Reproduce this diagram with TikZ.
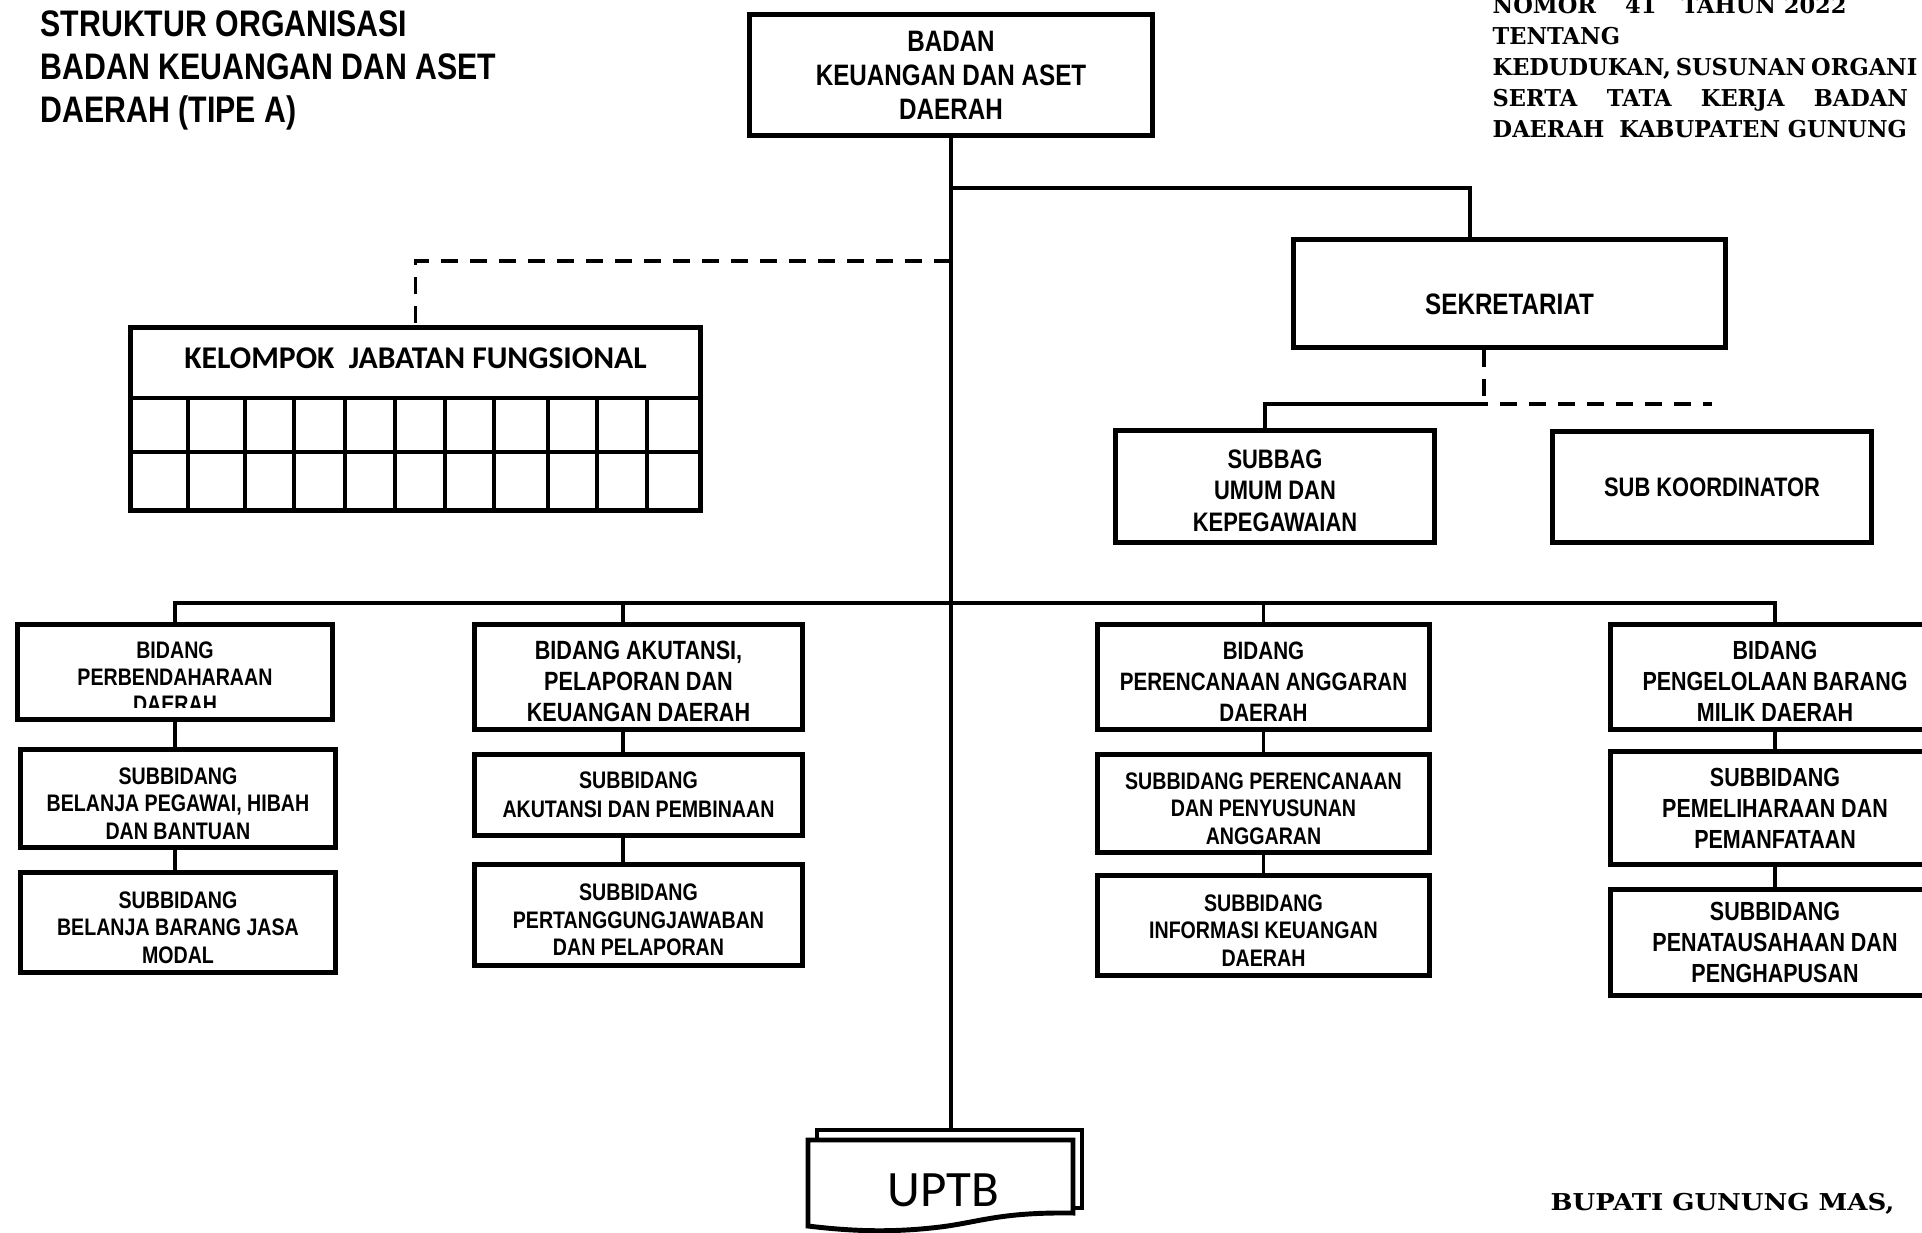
\documentclass[tikz,border=0pt]{standalone}
\usepackage{fontspec}
\newfontfamily\narrowsans[FakeStretch=0.82]{Liberation Sans}
\newfontfamily\calibfont{Carlito}
\newfontfamily\serifhead[FakeStretch=0.97]{DejaVu Serif}
\newfontfamily\serifwide[FakeStretch=1.12]{DejaVu Serif}
\newcommand{\bxfont}[2]{\narrowsans\bfseries\fontsize{#1}{#2}\selectfont}
\newcommand{\lift}{\rule{0pt}{7.6pt}}

\begin{document}
\begin{tikzpicture}[x=0.01cm, y=-0.01cm,
    unit/.style={draw, line width=1.4pt, align=center, inner sep=0pt, fill=white},
    conn/.style={line width=1pt},
    dashconn/.style={line width=1.1pt, dash pattern=on 0.17cm off 0.12cm},
    grid/.style={line width=1.4pt}]
  \useasboundingbox[fill=white] (0,0) rectangle (1922,1232);
  % headings
  \node[anchor=north west, inner sep=0pt, align=left, font=\bxfont{10.5}{12.2}] (title) at (40,10)
    {STRUKTUR ORGANISASI\\BADAN KEUANGAN DAN ASET\\DAERAH (TIPE A)};
  \node[anchor=north west, inner sep=0pt, align=left, font=\serifhead\bfseries\fontsize{6.6}{8.8}\selectfont] (perda) at (1492,-4)
    {NOMOR\hspace{0.29cm}41\hspace{0.25cm}TAHUN 2022\\TENTANG\\
     KEDUDUKAN,\hspace{0.05cm}SUSUNAN\hspace{0.05cm}ORGANI\\
     \makebox[4.15cm][s]{SERTA\hfill TATA\hfill KERJA\hfill BADAN}\\DAERAH\hspace{0.15cm}KABUPATEN GUNUNG};
  \node[anchor=base west, inner sep=0pt, font=\serifwide\bfseries\fontsize{6.6}{8}\selectfont] (bupati) at (1550,1210)
    {BUPATI GUNUNG MAS,};
  % top
  \node[unit, minimum width=4.03cm, minimum height=1.21cm, font=\bxfont{8.4}{9.7}] (badan) at (951,75)
    {BADAN\\KEUANGAN DAN ASET\\DAERAH};
  \node[unit, minimum width=4.31cm, minimum height=1.08cm, text height=0.41cm, text depth=0pt,
    font=\bxfont{8.4}{9.7}] (sekr) at (1509.5,293.5) {SEKRETARIAT};
  \node[unit, minimum width=3.19cm, minimum height=1.12cm, font=\bxfont{7.6}{9}] (subbag) at (1275,486.5)
    {\lift SUBBAG\\UMUM DAN\\KEPEGAWAIAN};
  \node[unit, minimum width=3.19cm, minimum height=1.11cm, font=\bxfont{7.6}{9}] (subkoor) at (1712,487)
    {SUB KOORDINATOR};
  % kelompok jabatan fungsional
  \node[unit, minimum width=5.70cm, minimum height=1.83cm] (kjf) at (415.5,419) {};
  \node[inner sep=0pt, font=\calibfont\bfseries\fontsize{9}{11}\selectfont] (kjfhead) at (kjf.north |- 0,358)
    {KELOMPOK\ \ JABATAN FUNGSIONAL};
  \draw[grid] (kjf.west |- 0,398) -- (kjf.east |- 0,398);
  \draw[grid] (kjf.west |- 0,452) -- (kjf.east |- 0,452);
  \foreach \x in {188,245,294,345,395,445,494,548,597,647}
    \draw[grid] (\x,398) -- (\x,0 |- kjf.south);
  % bidang
  \node[unit, minimum width=3.15cm, minimum height=0.95cm] (b1) at (175,672) {};
  \begin{scope}
    \clip (16,622) rectangle (335,707);
    \node[align=center, inner sep=0pt, font=\bxfont{6.8}{7.7}] (b1text) at (175,677)
      {BIDANG\\PERBENDAHARAAN\\DAERAH};
  \end{scope}
  \node[unit, minimum width=3.15cm, minimum height=0.98cm, font=\bxfont{6.8}{7.8}] (s1a) at (178,798.5)
    {\lift SUBBIDANG\\BELANJA PEGAWAI, HIBAH\\DAN BANTUAN};
  \node[unit, minimum width=3.15cm, minimum height=1.00cm, font=\bxfont{6.8}{7.8}] (s1b) at (178,922.5)
    {\lift SUBBIDANG\\BELANJA BARANG JASA\\MODAL};
  \node[unit, minimum width=3.28cm, minimum height=1.05cm, font=\bxfont{7.5}{8.8}] (b2) at (638.5,677)
    {\lift BIDANG AKUTANSI,\\PELAPORAN DAN\\KEUANGAN DAERAH};
  \node[unit, minimum width=3.28cm, minimum height=0.81cm, font=\bxfont{6.8}{8.2}] (s2a) at (638.5,795)
    {SUBBIDANG\\AKUTANSI DAN PEMBINAAN};
  \node[unit, minimum width=3.28cm, minimum height=1.01cm, font=\bxfont{6.8}{7.8}] (s2b) at (638.5,915)
    {\lift SUBBIDANG\\PERTANGGUNGJAWABAN\\DAN PELAPORAN};
  \node[unit, minimum width=3.32cm, minimum height=1.05cm, font=\bxfont{7.15}{8.8}] (b3) at (1263.5,677)
    {\lift BIDANG\\PERENCANAAN ANGGARAN\\DAERAH};
  \node[unit, minimum width=3.32cm, minimum height=0.98cm, font=\bxfont{6.8}{7.8}] (s3a) at (1263.5,803.5)
    {\lift SUBBIDANG PERENCANAAN\\DAN PENYUSUNAN\\ANGGARAN};
  \node[unit, minimum width=3.32cm, minimum height=1.00cm, font=\bxfont{6.8}{7.8}] (s3b) at (1263.5,925.5)
    {\lift SUBBIDANG\\INFORMASI KEUANGAN\\DAERAH};
  \node[unit, minimum width=3.29cm, minimum height=1.05cm, font=\bxfont{7.45}{8.8}] (b4) at (1775,677)
    {\lift BIDANG\\PENGELOLAAN BARANG\\MILIK DAERAH};
  \node[unit, minimum width=3.29cm, minimum height=1.13cm, font=\bxfont{7.45}{8.8}] (s4a) at (1775,808)
    {SUBBIDANG\\PEMELIHARAAN DAN\\PEMANFATAAN};
  \node[unit, minimum width=3.29cm, minimum height=1.06cm, font=\bxfont{7.45}{8.7}] (s4b) at (1775,942.5)
    {SUBBIDANG\\PENATAUSAHAAN DAN\\PENGHAPUSAN};
  % uptb
  \node[draw, line width=1.2pt, minimum width=2.65cm, minimum height=0.78cm, inner sep=0pt] (uptbback) at (949.5,1169) {};
  \draw[line width=1.4pt, fill=white] (808,1140) -- (1073,1140) -- (1073,1213)
    .. controls (1000,1212) and (980,1222) .. (940,1227)
    .. controls (890,1233) and (850,1231) .. (808,1226) -- cycle;
  \node[inner sep=0pt, font=\calibfont\fontsize{14.5}{17}\selectfont] (uptb) at (943,1190) {UPTB};
  % lines
  \draw[conn] (badan.south) -- (badan.south |- uptbback.north);
  \draw[conn] (badan.south |- 0,188) -| ([xshift=-0.395cm]sekr.north);
  \draw[dashconn] (badan.south |- 0,261) -| (kjf.north);
  \coordinate (sekrjoint) at ([xshift=-0.385cm]sekr.south |- 0,404);
  \draw[dashconn] ([xshift=-0.255cm]sekr.south) -- ([xshift=-0.255cm]sekr.south |- sekrjoint);
  \draw[conn] (sekrjoint) -| ([xshift=-0.1cm]subbag.north);
  \draw[dashconn] (sekrjoint) -- (subkoor.north |- sekrjoint);
  \draw[conn] (b1.north) -- (b1.north |- 0,603) -| (b4.north);
  \draw[conn] ([xshift=-0.155cm]b2.north) -- ([xshift=-0.155cm]b2.north |- 0,603);
  \draw[conn] (b3.north) -- (b3.north |- 0,603);
  \draw[conn] (b1.south) -- (b1.south |- s1a.north) (b1.south |- s1a.south) -- (b1.south |- s1b.north);
  \draw[conn] ([xshift=-0.155cm]b2.south) -- ([xshift=-0.155cm]s2a.north)
    ([xshift=-0.155cm]s2a.south) -- ([xshift=-0.155cm]s2b.north);
  \draw[conn] (b3.south) -- (s3a.north) (s3a.south) -- (s3b.north);
  \draw[conn] (b4.south) -- (s4a.north) (s4a.south) -- (s4b.north);
\end{tikzpicture}
\end{document}
